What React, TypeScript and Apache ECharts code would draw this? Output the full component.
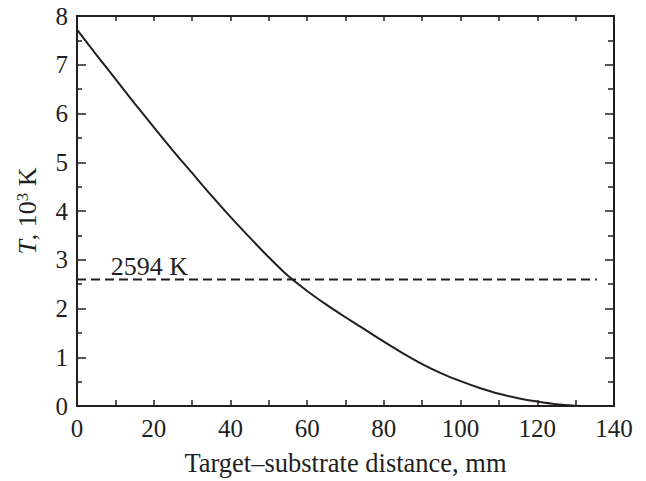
import React, { useEffect, useRef } from "react";
import * as echarts from "echarts";

const xValues = [0, 5, 10, 15, 20, 25, 30, 35, 40, 45, 50, 55, 60, 65, 70, 75, 80, 85, 90, 95, 100, 105, 110, 115, 120, 125, 130, 132];
const tValues = [7.72, 7.21, 6.71, 6.21, 5.72, 5.24, 4.78, 4.32, 3.88, 3.46, 3.05, 2.67, 2.36, 2.08, 1.82, 1.57, 1.32, 1.08, 0.86, 0.67, 0.51, 0.37, 0.25, 0.16, 0.09, 0.035, 0.005, 0];
const thresholdValue = 2.594;
const thresholdRange = [0, 135.5];
const thresholdLabel = "2594 K";
const thresholdLabelAt = [8.8, 2.86];
const xTitle = "Target–substrate distance, mm";

const FONT = "'Liberation Serif', 'Times New Roman', serif";
const INK = "#231f20";

export default function App() {
  const ref = useRef<HTMLDivElement>(null);
  useEffect(() => {
    if (!ref.current) return;
    const chart = echarts.init(ref.current, undefined, { renderer: "svg" });
    const lineAxis = { show: true, onZero: false, lineStyle: { color: INK, width: 2 } };
    chart.setOption({
      animation: false,
      backgroundColor: "#fff",
      textStyle: { fontFamily: FONT, color: INK },
      grid: { left: 77, right: 32, top: 16, bottom: 65, containLabel: false },
      xAxis: [
        {
          type: "value", min: 0, max: 140, interval: 20, position: "bottom",
          axisLine: lineAxis,
          axisTick: { show: true, inside: true, length: 6, lineStyle: { color: INK, width: 1.5 } },
          minorTick: { show: true, splitNumber: 2, length: 6, lineStyle: { color: INK, width: 1.5 } },
          splitLine: { show: false },
          axisLabel: { fontSize: 25, fontFamily: FONT, color: INK, margin: 10 },
          name: xTitle, nameLocation: "middle", nameGap: 43,
          nameTextStyle: { fontSize: 26.5, fontFamily: FONT, color: INK },
        },
        {
          type: "value", min: 0, max: 140, interval: 20, position: "top",
          axisLine: lineAxis,
          axisTick: { show: true, inside: true, length: 5, lineStyle: { color: INK, width: 1.5 } },
          minorTick: { show: true, splitNumber: 2, length: 5, lineStyle: { color: INK, width: 1.5 } },
          splitLine: { show: false },
          axisLabel: { show: false },
        },
      ],
      yAxis: [
        {
          type: "value", min: 0, max: 8, interval: 1, position: "left",
          axisLine: lineAxis,
          axisTick: { show: true, inside: true, length: 9, lineStyle: { color: INK, width: 1.5 } },
          minorTick: { show: true, splitNumber: 2, length: 5, lineStyle: { color: INK, width: 1.5 } },
          splitLine: { show: false },
          axisLabel: { fontSize: 25, fontFamily: FONT, color: INK, margin: 9 },
          name: "{i|T}, 10{s|3} K", nameLocation: "middle", nameGap: 36, nameRotate: 90,
          nameTextStyle: {
            fontSize: 26, fontFamily: FONT, color: INK,
            rich: {
              i: { fontSize: 26, fontFamily: FONT, fontStyle: "italic", color: INK },
              s: { fontSize: 17, fontFamily: FONT, color: INK, verticalAlign: "top", padding: [0, 0, 10, 0] },
            },
          },
        },
        {
          type: "value", min: 0, max: 8, interval: 1, position: "right",
          axisLine: lineAxis,
          axisTick: { show: true, inside: true, length: 9, lineStyle: { color: INK, width: 1.5 } },
          minorTick: { show: true, splitNumber: 2, length: 6, lineStyle: { color: INK, width: 1.5 } },
          splitLine: { show: false },
          axisLabel: { show: false },
        },
      ],
      series: [
        {
          type: "line", xAxisIndex: 0, yAxisIndex: 0,
          data: xValues.map((x, i) => [x, tValues[i]]),
          showSymbol: false, smooth: 0.25,
          lineStyle: { color: INK, width: 2 },
        },
        {
          type: "line", xAxisIndex: 0, yAxisIndex: 0,
          data: thresholdRange.map((x) => [x, thresholdValue]),
          showSymbol: false,
          lineStyle: { color: INK, width: 2, type: [9, 5] },
        },
        {
          type: "scatter", xAxisIndex: 0, yAxisIndex: 0,
          data: [thresholdLabelAt],
          symbolSize: 0,
          itemStyle: { opacity: 1 },
          label: {
            show: true, position: "right", distance: 0,
            formatter: thresholdLabel,
            fontSize: 26, fontFamily: FONT, color: INK, opacity: 1,
          },
        },
      ],
    });
    return () => chart.dispose();
  }, []);
  return (
    <div
      ref={ref}
      style={{ position: "fixed", left: 0, top: 0, width: 646, height: 481, background: "#fff" }}
    />
  );
}
